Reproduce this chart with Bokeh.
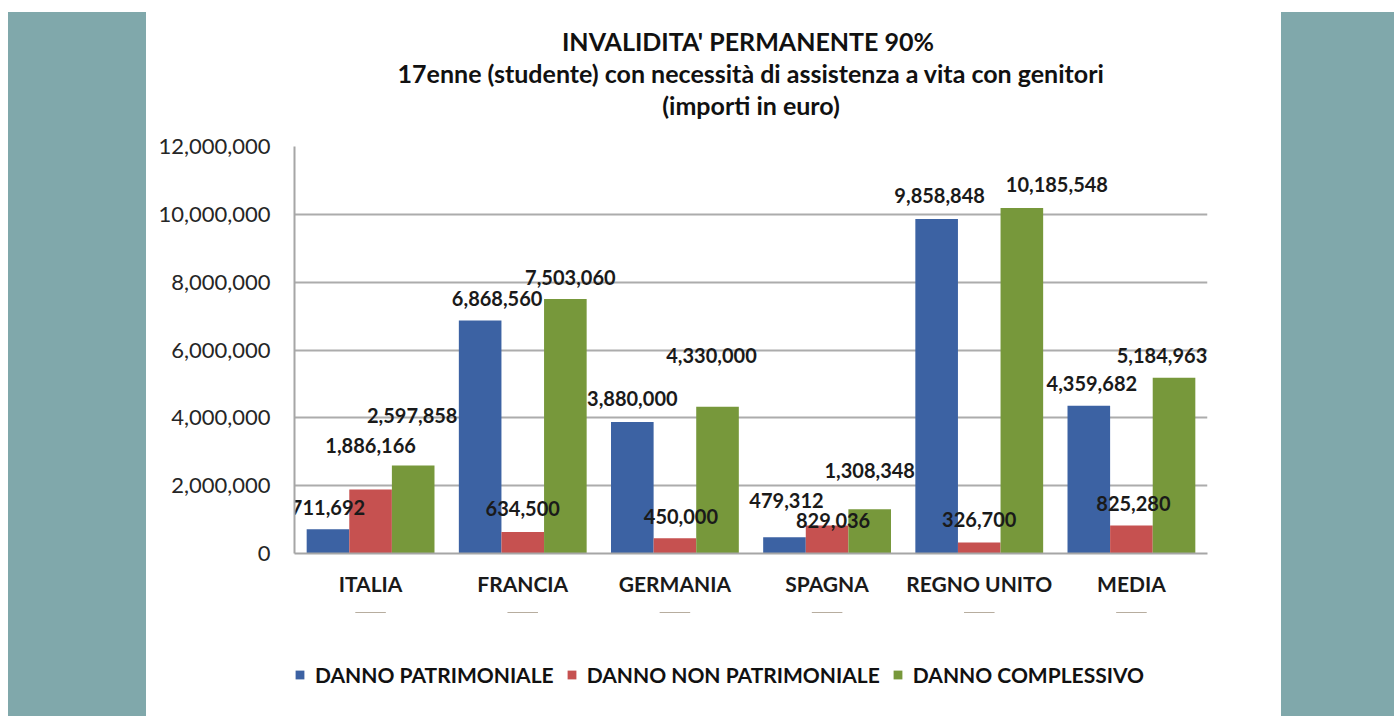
from bokeh.plotting import figure
from bokeh.models import (ColumnDataSource, FactorRange, Range1d, NumeralTickFormatter,
                          Title, Legend, LegendItem, Div, FixedTicker)
from bokeh.layouts import row, column
from bokeh.transform import dodge
from bokeh.core.properties import value
from bokeh.embed import file_html
from bokeh.resources import INLINE

# ---- data ----
categories = ["ITALIA", "FRANCIA", "GERMANIA", "SPAGNA", "REGNO UNITO", "MEDIA"]
series_names = ["DANNO PATRIMONIALE", "DANNO NON PATRIMONIALE", "DANNO COMPLESSIVO"]
patrimoniale = [711692, 6868560, 3880000, 479312, 9858848, 4359682]
non_patrimoniale = [1886166, 634500, 450000, 829036, 326700, 825280]
complessivo = [2597858, 7503060, 4330000, 1308348, 10185548, 5184963]
y_ticks = [0, 2000000, 4000000, 6000000, 8000000, 10000000, 12000000]
title_lines = ["INVALIDITA' PERMANENTE  90%",
               "17enne (studente) con necessità di assistenza a vita con genitori",
               "(importi in euro)"]

# label placement (pixels) as in the original chart
lab_dy = [[22, 22, 23, 37, 24, 22],
          [44, 23, 22, 5, 23, 22],
          [50, 22, 51, 39, 24, 22]]
lab_dx = [[0, 17, 0, 2, 3, 3],
          [0, 0, 6, 6, 0, 2],
          [-1, 5, -6, 0, 35, -12]]

colors = ["#3c62a3", "#c65150", "#77983b"]
FONT = "Lato"

src = ColumnDataSource(dict(
    cat=categories, s0=patrimoniale, s1=non_patrimoniale, s2=complessivo,
    l0=[f"{v:,}" for v in patrimoniale],
    l1=[f"{v:,}" for v in non_patrimoniale],
    l2=[f"{v:,}" for v in complessivo],
    dx0=lab_dx[0], dx1=lab_dx[1], dx2=lab_dx[2],
    dy0=[-d for d in lab_dy[0]], dy1=[-d for d in lab_dy[1]], dy2=[-d for d in lab_dy[2]],
))

p = figure(x_range=FactorRange(*categories, range_padding=0), y_range=Range1d(0, 12000000),
           width=1135, height=612, output_backend="svg", toolbar_location=None,
           min_border_left=148, min_border_right=74, min_border_top=146, min_border_bottom=59)
p.background_fill_color = "white"
p.border_fill_color = "white"
p.outline_line_color = None

bw = 0.28
offs = [-bw, 0.0, bw]
for i in range(3):
    p.vbar(x=dodge("cat", offs[i], range=p.x_range), top=f"s{i}", width=bw,
           source=src, fill_color=colors[i], line_color=None)
for i in range(3):
    p.text(x=dodge("cat", offs[i], range=p.x_range), y=f"s{i}", text=f"l{i}", source=src,
           x_offset=f"dx{i}", y_offset=f"dy{i}",
           text_align="center", text_baseline="middle", text_font=value(FONT),
           text_font_style="bold", text_font_size="20px", text_color="#1a1a1a")

# axes
p.yaxis.ticker = FixedTicker(ticks=y_ticks)
p.yaxis.formatter = NumeralTickFormatter(format="0,0")
p.yaxis.major_label_text_font = FONT
p.yaxis.major_label_text_font_size = "22px"
p.yaxis.major_label_text_color = "#262626"
p.yaxis.major_label_standoff = 18
p.xaxis.major_label_text_font = FONT
p.xaxis.major_label_text_font_size = "21px"
p.xaxis.major_label_text_font_style = "bold"
p.xaxis.major_label_text_color = "#1a1a1a"
p.xaxis.major_label_standoff = 11
for ax in (p.xaxis, p.yaxis):
    ax.axis_line_color = "#a6a6a6"
    ax.axis_line_width = 2
    ax.major_tick_line_color = None
    ax.minor_tick_line_color = None
p.xgrid.grid_line_color = None
p.ygrid.grid_line_color = "#acacac"
p.ygrid.grid_line_width = 2

# titles (first added sits closest to the plot, p.title outermost)
p.title.text = title_lines[0]
p.title.align = "center"
p.title.text_font = FONT
p.title.text_font_size = "25px"
p.title.text_color = "#111111"
p.title.standoff = 0
p.add_layout(Title(text="\u00a0", text_font_size="22px", standoff=0), "above")  # spacer
p.add_layout(Title(text=title_lines[2], align="center", text_font=FONT, text_font_size="25px",
                   text_color="#111111", text_font_style="bold", standoff=0), "above")
p.add_layout(Title(text=title_lines[1], align="center", text_font=FONT, text_font_size="25px",
                   text_color="#111111", text_font_style="bold", standoff=0), "above")

# legend strip under the chart (its glyph renderers are zero-height, outside the visible range)
p_leg = figure(width=1135, height=100, x_range=FactorRange(*categories),
               y_range=Range1d(-12000000, -11000000),
               output_backend="svg", toolbar_location=None, x_axis_type=None, y_axis_type=None,
               min_border=0)
p_leg.outline_line_color = None
p_leg.border_fill_color = "white"
p_leg.background_fill_color = "white"
leg_r = [p_leg.vbar(x="cat", top=f"s{i}", bottom=f"s{i}", width=0.2, source=src,
                    fill_color=colors[i], line_color=None) for i in range(3)]
legend = Legend(items=[LegendItem(label=series_names[i], renderers=[leg_r[i]]) for i in range(3)],
                orientation="horizontal", location=(0, 25),
                glyph_width=11, glyph_height=11, label_standoff=10, spacing=12,
                label_text_font=FONT, label_text_font_size="21px", label_text_font_style="bold",
                label_text_color="#111111", border_line_color=None, background_fill_alpha=0,
                padding=5, margin=0)
p_leg.add_layout(legend, "center")

teal = "#80a8ab"
left = Div(width=138, height=704, margin=(12, 0, 0, 8), styles={"background-color": teal})
right = Div(width=113, height=704, margin=(12, 0, 0, 0), styles={"background-color": teal})
layout = row(left, column(p, p_leg), right)

open("out.html", "w").write(file_html(layout, INLINE))
